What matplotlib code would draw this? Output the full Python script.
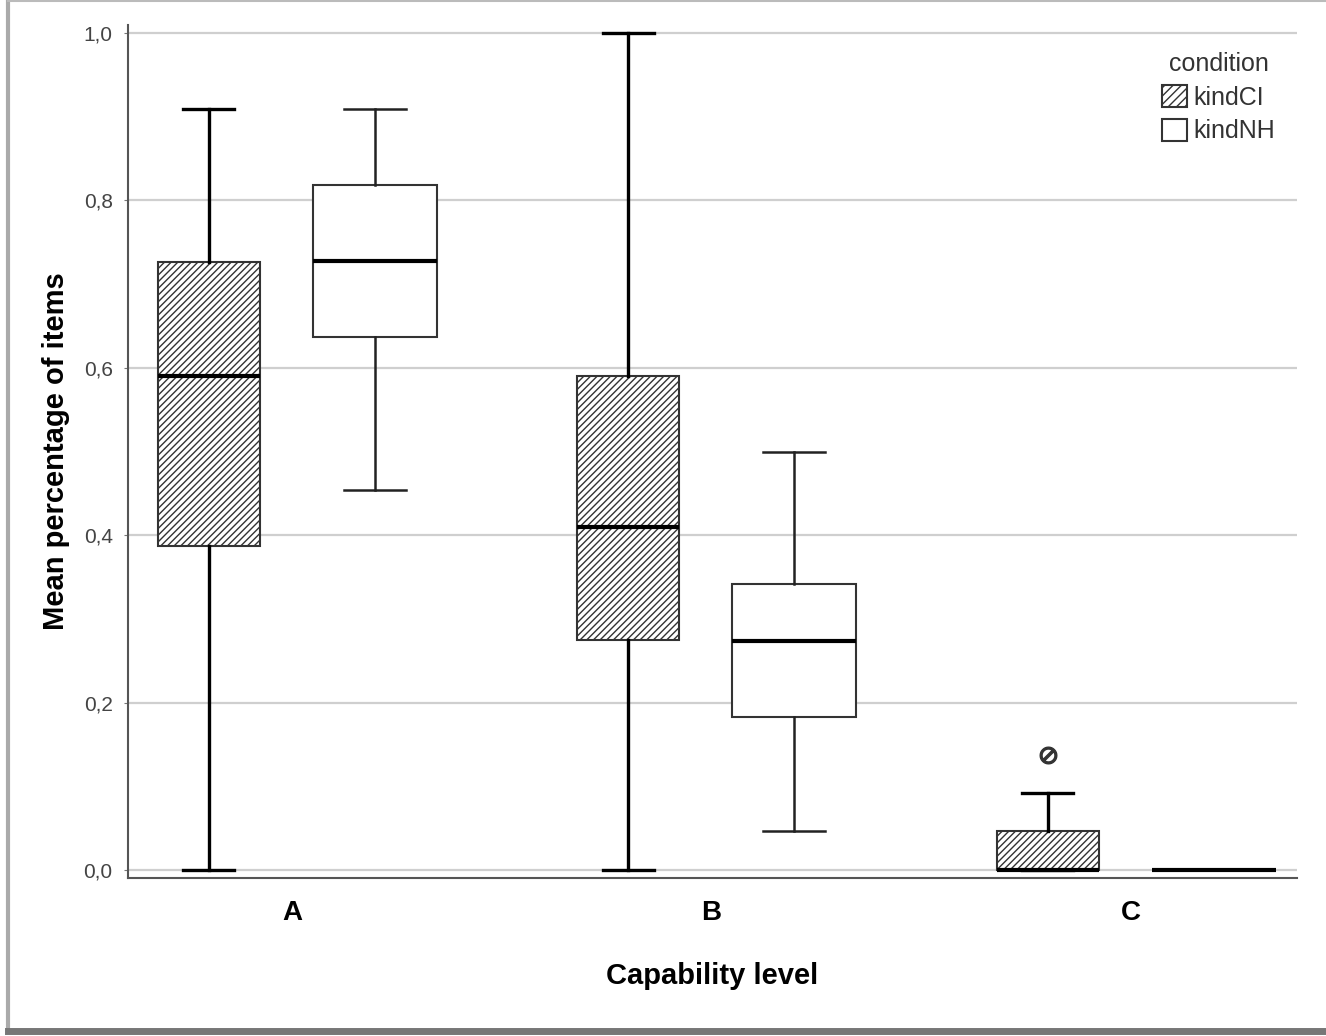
import numpy as np
import matplotlib.pyplot as plt
from matplotlib.patches import Patch
from matplotlib.lines import Line2D

plt.rcParams['font.family'] = ['Liberation Sans', 'DejaVu Sans']
plt.rcParams['hatch.linewidth'] = 1.0

# values
levels = ['A', 'B', 'C']

ci_lo = [0.0, 0.0, 0.0]
ci_q1 = [0.387, 0.275, 0.0]
ci_med = [0.590, 0.410, 0.0]
ci_q3 = [0.726, 0.590, 0.046]
ci_hi = [0.909, 1.0, 0.092]
ci_out = [[], [], [0.137]]

nh_lo = [0.454, 0.047, 0.0]
nh_q1 = [0.637, 0.183, 0.0]
nh_med = [0.728, 0.274, 0.0]
nh_q3 = [0.818, 0.342, 0.0]
nh_hi = [0.909, 0.499, 0.0]
nh_out = [[], [], []]

yticks = [0.0, 0.2, 0.4, 0.6, 0.8, 1.0]
ytick_labels = ['0,0', '0,2', '0,4', '0,6', '0,8', '1,0']


def make_stats(lo, q1, med, q3, hi, out):
    return [dict(whislo=a, q1=b, med=c, q3=d, whishi=e, fliers=f)
            for a, b, c, d, e, f in zip(lo, q1, med, q3, hi, out)]


fig = plt.figure(figsize=(13.26, 10.36), dpi=100)
ax = fig.add_axes([0.0965, 0.1525, 0.8815, 0.8235])

pos = np.arange(len(levels))
off = 0.198

ax.bxp(make_stats(ci_lo, ci_q1, ci_med, ci_q3, ci_hi, ci_out),
       positions=pos - off, widths=0.243, patch_artist=True, manage_ticks=False,
       boxprops=dict(facecolor='white', edgecolor='#333333', hatch='/////', linewidth=1.5),
       medianprops=dict(color='black', linewidth=3.0),
       whiskerprops=dict(color='black', linewidth=2.4),
       capprops=dict(color='black', linewidth=2.4),
       flierprops=dict(marker=r'$\oslash$', markersize=12, markerfacecolor='#333333',
                       markeredgecolor='#333333', linestyle='none'))

ax.bxp(make_stats(nh_lo, nh_q1, nh_med, nh_q3, nh_hi, nh_out),
       positions=pos + off, widths=0.296, patch_artist=True, manage_ticks=False,
       boxprops=dict(facecolor='white', edgecolor='#333333', linewidth=1.5),
       medianprops=dict(color='black', linewidth=3.0),
       whiskerprops=dict(color='#222222', linewidth=1.8),
       capprops=dict(color='#222222', linewidth=1.8))

ax.set_xlim(-0.391, 2.396)
ax.set_ylim(-0.0096, 1.0096)

ax.set_yticks(yticks)
ax.set_yticklabels(ytick_labels)
ax.set_xticks(pos)
ax.set_xticklabels(levels, fontweight='bold')
ax.tick_params(axis='y', length=3, color='#777777', labelcolor='#444444', labelsize=15, pad=8)
ax.tick_params(axis='x', length=0, labelsize=20, pad=16)

ax.grid(axis='y', color='#cfcfcf', linewidth=1.6)
ax.set_axisbelow(True)
for s in ['top', 'right']:
    ax.spines[s].set_visible(False)
for s in ['left', 'bottom']:
    ax.spines[s].set_color('#555555')
    ax.spines[s].set_linewidth(1.5)

ax.set_xlabel('Capability level', fontsize=21, fontweight='bold', labelpad=26)
ax.set_ylabel('Mean percentage of items', fontsize=21, fontweight='bold', labelpad=10)

handles = [Patch(facecolor='white', edgecolor='#333333', hatch='////', linewidth=1.5),
           Patch(facecolor='white', edgecolor='#333333', linewidth=1.5)]
leg = ax.legend(handles, ['kindCI', 'kindNH'], title='condition', loc='upper left',
                bbox_to_anchor=(0.874, 0.983), frameon=False, fontsize=18,
                title_fontsize=18, handlelength=1.0, handleheight=1.0,
                handletextpad=0.25, labelspacing=0.36, borderpad=0)
leg.get_title().set_color('#333333')
for t in leg.get_texts():
    t.set_color('#333333')

# window frame around the screenshot
fig.add_artist(Line2D([0.006, 0.006], [0.008, 1.0], color='#aaaaaa', linewidth=3))
fig.add_artist(Line2D([0.006, 1.0], [0.005, 0.005], color='#777777', linewidth=5))
fig.add_artist(Line2D([0.006, 1.0], [0.999, 0.999], color='#bbbbbb', linewidth=1.5))

fig.savefig('out.png', dpi=100)
